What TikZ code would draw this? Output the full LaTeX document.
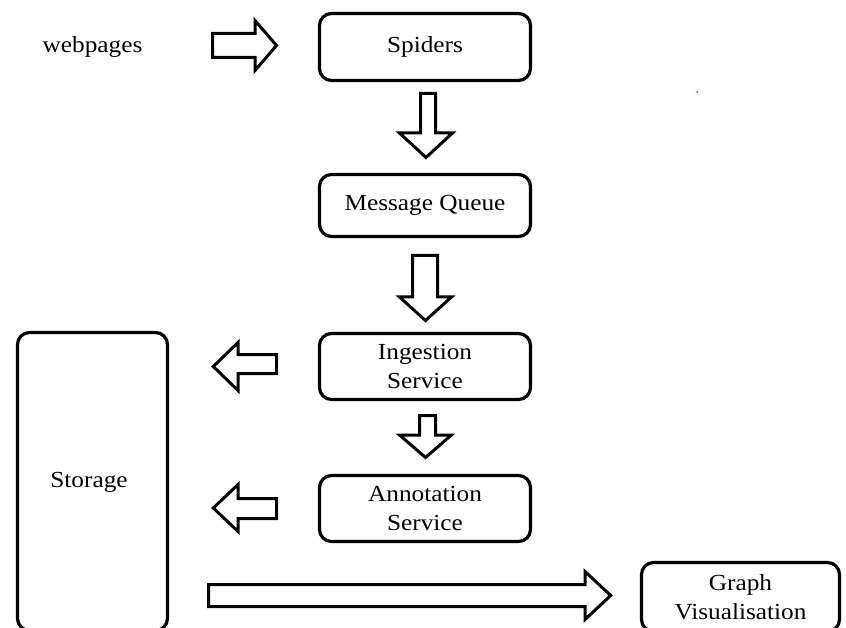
\documentclass[tikz,border=0pt]{standalone}
\usepackage{fontspec}
\setmainfont[FakeStretch=1.1]{Liberation Serif}
\begin{document}
\begin{tikzpicture}[x=1pt,y=-1pt,
  box/.style={draw=black,line width=3.2pt,rounded corners=12pt,align=center,
    font=\fontsize{23}{29}\selectfont,inner sep=0pt},
  blockarrow/.style={draw=black,line width=3pt,line join=miter,fill=white},
  lbl/.style={font=\fontsize{23}{29}\selectfont,inner sep=0pt}]
\useasboundingbox (0,0) rectangle (846,628);
\clip (0,0) rectangle (846,628);
\fill[white] (0,0) rectangle (846,628);

% boxes
\node[box,minimum width=211pt,minimum height=67pt] (spiders) at (425,47) {Spiders};
\node[box,minimum width=211pt,minimum height=62pt] (mq) at (425,205.5) {Message Queue};
\node[box,minimum width=211pt,minimum height=66pt] (ingest) at (425,366.5) {Ingestion\\Service};
\node[box,minimum width=211pt,minimum height=66pt] (annot) at (425,508.5) {Annotation\\Service};
\node[box,minimum width=150pt,minimum height=298pt] (storage) at (92.5,481.5) {};
\node[lbl] (storagetxt) at (89,482) {Storage};
\node[box,minimum width=198pt,minimum height=69pt] (graph) at (740.5,597) {Graph\\Visualisation};
\node[lbl] (web) at (92.5,47) {webpages};

% block arrows
\draw[blockarrow] (212.5,33.5) -- (255,33.5) -- (255,20.5) -- (276.5,45.5)
  -- (255,70.5) -- (255,57.5) -- (212.5,57.5) -- cycle;
\draw[blockarrow] (420.5,93.5) -- (435.5,93.5) -- (435.5,133) -- (452.5,133)
  -- (426,157.5) -- (399.5,133) -- (420.5,133) -- cycle;
\draw[blockarrow] (412.5,255.5) -- (437.5,255.5) -- (437.5,297) -- (451.5,297)
  -- (425.5,320.5) -- (399.5,297) -- (412.5,297) -- cycle;
\draw[blockarrow] (419.5,415.5) -- (435.5,415.5) -- (435.5,435) -- (451.5,435)
  -- (425.5,457.5) -- (399.5,435) -- (419.5,435) -- cycle;
\draw[blockarrow] (276.5,354.5) -- (238,354.5) -- (238,342.5) -- (213.3,366.5)
  -- (238,390.5) -- (238,373.5) -- (276.5,373.5) -- cycle;
\draw[blockarrow] (276.5,498.5) -- (238,498.5) -- (238,484.5) -- (213.3,508)
  -- (238,531.5) -- (238,518.5) -- (276.5,518.5) -- cycle;
\draw[blockarrow] (208.5,584.5) -- (585,584.5) -- (585,571.5) -- (610.7,595.5)
  -- (585,619.5) -- (585,606.5) -- (208.5,606.5) -- cycle;

% stray dot
\fill[red!80] (697,92) circle (1pt);
\end{tikzpicture}
\end{document}
